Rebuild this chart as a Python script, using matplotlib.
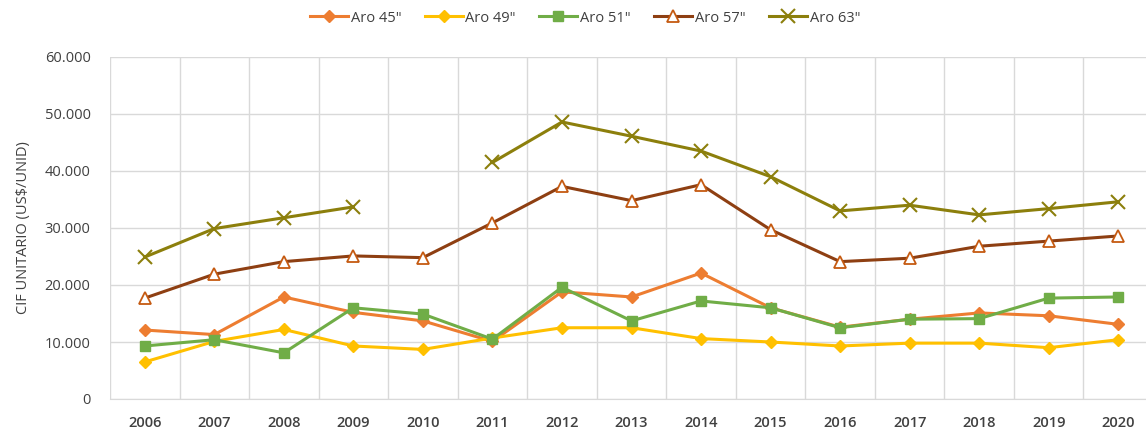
import matplotlib.pyplot as plt
from matplotlib.ticker import FuncFormatter, MultipleLocator
import numpy as np

years = [str(y) for y in range(2006, 2021)]

# CIF unitario (US$/unid)
aro_45 = [12100, 11300, 17900, 15200, 13700, 10100, 18800, 17900, 22100, 16000,
          12600, 14000, 15100, 14600, 13100]
aro_49 = [6500, 10100, 12200, 9300, 8700, 10700, 12500, 12500, 10600, 10000,
          9300, 9800, 9800, 9000, 10400]
aro_51 = [9300, 10400, 8100, 16000, 14900, 10500, 19600, 13700, 17200, 16000,
          12500, 14000, 14100, 17700, 17900]
aro_57 = [17700, 21900, 24100, 25100, 24800, 30900, 37300, 34800, 37600, 29700,
          24100, 24700, 26800, 27700, 28600]
aro_63 = [24900, 29900, 31800, 33700, np.nan, 41500, 48600, 46100, 43500, 39000,
          33000, 34000, 32300, 33400, 34600]

plt.rcParams['font.family'] = ['Open Sans', 'DejaVu Sans']

fig = plt.figure(figsize=(11.46, 4.34), dpi=100)
ax = fig.add_axes([110 / 1146, 1 - 399 / 434, 1043 / 1146, 342 / 434])

x = np.arange(len(years))
ax.plot(x, aro_45, color='#ED7D31', lw=2.2, marker='D', ms=6,
        mfc='#ED7D31', mec='#ED7D31', label='Aro 45"', zorder=3)
ax.plot(x, aro_49, color='#FFC000', lw=2.2, marker='D', ms=6,
        mfc='#FFC000', mec='#FFC000', label='Aro 49"', zorder=3)
ax.plot(x, aro_51, color='#70AD47', lw=2.2, marker='s', ms=7,
        mfc='#70AD47', mec='#70AD47', label='Aro 51"', zorder=3)
ax.plot(x, aro_57, color='#8E3F12', lw=2.2, marker='^', ms=9,
        mfc='white', mec='#C55A11', mew=1.3, label='Aro 57"', zorder=3)
ax.plot(x, aro_63, color='#8C7F0C', lw=2.2, marker='x', ms=10,
        mec='#8C7F0C', mew=1.5, label='Aro 63"', zorder=3)

ax.set_xlim(-0.5, len(years) - 0.5)
ax.set_ylim(0, 60000)
ax.set_xticks(x)
ax.set_xticklabels(years)
ax.xaxis.set_minor_locator(MultipleLocator(1, offset=0.5))
ax.yaxis.set_major_locator(MultipleLocator(10000))
ax.yaxis.set_major_formatter(
    FuncFormatter(lambda v, p: f'{int(v):,}'.replace(',', '.')))

ax.grid(True, axis='y', which='major', color='#D9D9D9', lw=1)
ax.grid(True, axis='x', which='minor', color='#D9D9D9', lw=1)
ax.set_axisbelow(True)
for s in ax.spines.values():
    s.set_visible(False)
ax.spines['bottom'].set_visible(True)
ax.spines['bottom'].set_color('#D9D9D9')

ax.tick_params(axis='both', which='both', length=0, colors='#404040')
ax.tick_params(axis='x', pad=12, labelsize=10.5)
ax.tick_params(axis='y', pad=14, labelsize=10.5)
for lab in ax.get_xticklabels():
    lab.set_fontweight('semibold')

ax.set_ylabel('CIF UNITARIO (US$/UNID)', fontsize=10.5, color='#404040',
              labelpad=10)

fig.legend(loc='center', bbox_to_anchor=(585 / 1146, 1 - 18 / 434), ncol=5,
           frameon=False, fontsize=10.5, handlelength=2.6, columnspacing=1.6,
           handletextpad=0.2, labelcolor='#404040')

fig.savefig('out.png', dpi=100)
